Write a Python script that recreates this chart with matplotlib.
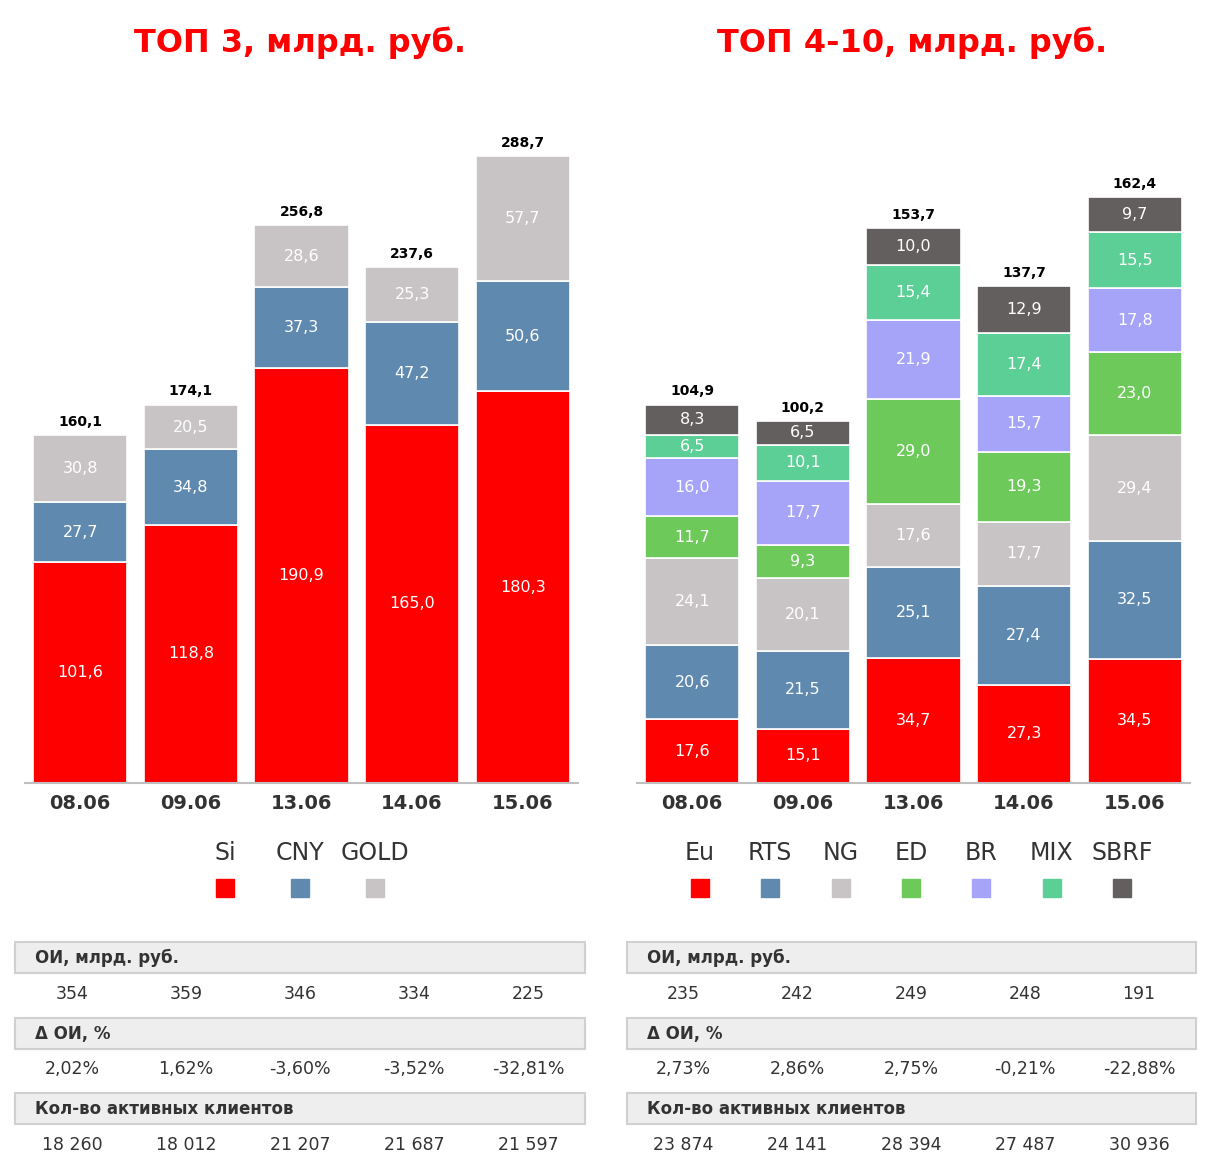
import matplotlib.pyplot as plt
from matplotlib.patches import Rectangle
import numpy as np

dates = ["08.06", "09.06", "13.06", "14.06", "15.06"]

# TOP 3
top3_names = ["Si", "CNY", "GOLD"]
si = [101.6, 118.8, 190.9, 165.0, 180.3]
cny = [27.7, 34.8, 37.3, 47.2, 50.6]
gold = [30.8, 20.5, 28.6, 25.3, 57.7]
top3_totals = [160.1, 174.1, 256.8, 237.6, 288.7]

# TOP 4-10
top10_names = ["Eu", "RTS", "NG", "ED", "BR", "MIX", "SBRF"]
eu = [17.6, 15.1, 34.7, 27.3, 34.5]
rts = [20.6, 21.5, 25.1, 27.4, 32.5]
ng = [24.1, 20.1, 17.6, 17.7, 29.4]
ed = [11.7, 9.3, 29.0, 19.3, 23.0]
br = [16.0, 17.7, 21.9, 15.7, 17.8]
mix = [6.5, 10.1, 15.4, 17.4, 15.5]
sbrf = [8.3, 6.5, 10.0, 12.9, 9.7]
top10_totals = [104.9, 100.2, 153.7, 137.7, 162.4]

# tables
row_titles = ["ОИ, млрд. руб.", "Δ ОИ, %", "Кол-во активных клиентов"]
left_oi = ["354", "359", "346", "334", "225"]
left_doi = ["2,02%", "1,62%", "-3,60%", "-3,52%", "-32,81%"]
left_clients = ["18 260", "18 012", "21 207", "21 687", "21 597"]
right_oi = ["235", "242", "249", "248", "191"]
right_doi = ["2,73%", "2,86%", "2,75%", "-0,21%", "-22,88%"]
right_clients = ["23 874", "24 141", "28 394", "27 487", "30 936"]

c_red = "#FF0000"
c_blue = "#6089B0"
c_gray = "#C8C3C5"
c_green = "#6CC95A"
c_lav = "#A6A4F8"
c_mint = "#5CCF97"
c_dark = "#645F5F"

W, H = 1219, 1165
fig = plt.figure(figsize=(W / 100, H / 100), dpi=100)


def px_axes(x0, y0, x1, y1):
    return fig.add_axes([x0 / W, 1 - y1 / H, (x1 - x0) / W, (y1 - y0) / H])


def stacked(ax, series, colors, totals, ymax):
    x = np.arange(len(dates))
    bottom = np.zeros(len(dates))
    for vals, col in zip(series, colors):
        vals = np.array(vals)
        ax.bar(x, vals, bottom=bottom, width=0.85, color=col,
               edgecolor="white", linewidth=1.2)
        for xi, b, v in zip(x, bottom, vals):
            ax.text(xi, b + v / 2, f"{v:.1f}".replace(".", ","), ha="center",
                    va="center", color="white", fontsize=11.5)
        bottom += vals
    for xi, b, t in zip(x, bottom, totals):
        ax.text(xi, b + ymax * 0.01, f"{t:.1f}".replace(".", ","),
                ha="center", va="bottom", fontsize=10, fontweight="bold")
    ax.set_xlim(-0.5, len(dates) - 0.5)
    ax.set_ylim(0, ymax)
    ax.set_xticks(x)
    ax.set_xticklabels(dates, fontsize=14, fontweight="bold", color="#333333")
    ax.tick_params(axis="x", length=0, pad=8)
    ax.set_yticks([])
    for s in ["top", "left", "right"]:
        ax.spines[s].set_visible(False)
    ax.spines["bottom"].set_color("#BFBFBF")
    ax.spines["bottom"].set_linewidth(1.5)


ax1 = px_axes(25, 130, 578, 783)
stacked(ax1, [si, cny, gold], [c_red, c_blue, c_gray], top3_totals,
        (783 - 130) / 2.172)

ax2 = px_axes(637, 130, 1190, 783)
stacked(ax2, [eu, rts, ng, ed, br, mix, sbrf],
        [c_red, c_blue, c_gray, c_green, c_lav, c_mint, c_dark], top10_totals,
        (783 - 130) / 3.608)

# overlay for titles, legends and tables
ov = fig.add_axes([0, 0, 1, 1])
ov.set_xlim(0, W)
ov.set_ylim(H, 0)
ov.axis("off")

ov.text(300, 43, "ТОП 3, млрд. руб.", ha="center", va="center", color=c_red,
        fontsize=23, fontweight="bold")
ov.text(912, 43, "ТОП 4-10, млрд. руб.", ha="center", va="center", color=c_red,
        fontsize=23, fontweight="bold")


def legend(x0, step, names, colors):
    for i, (n, c) in enumerate(zip(names, colors)):
        xc = x0 + i * step
        ov.text(xc, 853, n, ha="center", va="center", fontsize=17,
                color="#333333")
        ov.add_patch(Rectangle((xc - 9, 879), 18, 18, color=c))


legend(225, 75, top3_names, [c_red, c_blue, c_gray])
legend(700, 70.3, top10_names,
       [c_red, c_blue, c_gray, c_green, c_lav, c_mint, c_dark])


def table(x0, x1, col0, rows):
    for k, (title, vals) in enumerate(zip(row_titles, rows)):
        y = 942 + k * 75.5
        ov.add_patch(Rectangle((x0, y), x1 - x0, 31, facecolor="#EEEEEE",
                               edgecolor="#D0D0D0", linewidth=1.5))
        ov.text(x0 + 20, y + 16, title, ha="left", va="center", fontsize=12,
                fontweight="bold", color="#333333")
        for i, v in enumerate(vals):
            ov.text(col0 + i * 114, y + 52, v, ha="center", va="center",
                    fontsize=12.5, color="#333333")


table(15, 585, 72, [left_oi, left_doi, left_clients])
table(627, 1196, 683, [right_oi, right_doi, right_clients])

fig.savefig("out.png", dpi=100, facecolor="white")
